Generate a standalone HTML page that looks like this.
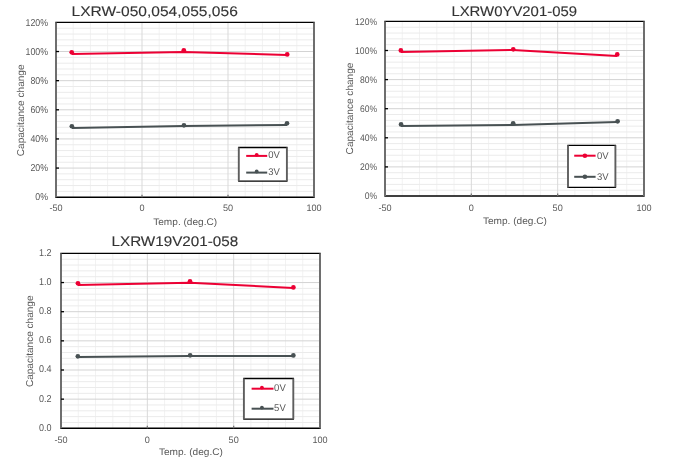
<!DOCTYPE html>
<html><head><meta charset="utf-8"><style>
html,body{margin:0;padding:0;background:#fff;width:675px;height:464px;overflow:hidden}
svg{display:block;font-family:'Liberation Sans', sans-serif;will-change:transform;text-rendering:geometricPrecision}
</style></head><body>
<svg width="675" height="464" viewBox="0 0 675 464">
<rect width="675" height="464" fill="#fff"/>
<line x1="73.2" y1="22.4" x2="73.2" y2="197.2" stroke="#f2f2f2" stroke-width="1"/>
<line x1="90.4" y1="22.4" x2="90.4" y2="197.2" stroke="#f2f2f2" stroke-width="1"/>
<line x1="107.6" y1="22.4" x2="107.6" y2="197.2" stroke="#f2f2f2" stroke-width="1"/>
<line x1="124.8" y1="22.4" x2="124.8" y2="197.2" stroke="#f2f2f2" stroke-width="1"/>
<line x1="159.2" y1="22.4" x2="159.2" y2="197.2" stroke="#f2f2f2" stroke-width="1"/>
<line x1="176.4" y1="22.4" x2="176.4" y2="197.2" stroke="#f2f2f2" stroke-width="1"/>
<line x1="193.6" y1="22.4" x2="193.6" y2="197.2" stroke="#f2f2f2" stroke-width="1"/>
<line x1="210.8" y1="22.4" x2="210.8" y2="197.2" stroke="#f2f2f2" stroke-width="1"/>
<line x1="245.2" y1="22.4" x2="245.2" y2="197.2" stroke="#f2f2f2" stroke-width="1"/>
<line x1="262.4" y1="22.4" x2="262.4" y2="197.2" stroke="#f2f2f2" stroke-width="1"/>
<line x1="279.6" y1="22.4" x2="279.6" y2="197.2" stroke="#f2f2f2" stroke-width="1"/>
<line x1="296.8" y1="22.4" x2="296.8" y2="197.2" stroke="#f2f2f2" stroke-width="1"/>
<line x1="56" y1="191.37" x2="314" y2="191.37" stroke="#ebebeb" stroke-width="1"/>
<line x1="56" y1="185.55" x2="314" y2="185.55" stroke="#ebebeb" stroke-width="1"/>
<line x1="56" y1="179.72" x2="314" y2="179.72" stroke="#ebebeb" stroke-width="1"/>
<line x1="56" y1="173.89" x2="314" y2="173.89" stroke="#ebebeb" stroke-width="1"/>
<line x1="56" y1="162.24" x2="314" y2="162.24" stroke="#ebebeb" stroke-width="1"/>
<line x1="56" y1="156.41" x2="314" y2="156.41" stroke="#ebebeb" stroke-width="1"/>
<line x1="56" y1="150.59" x2="314" y2="150.59" stroke="#ebebeb" stroke-width="1"/>
<line x1="56" y1="144.76" x2="314" y2="144.76" stroke="#ebebeb" stroke-width="1"/>
<line x1="56" y1="133.11" x2="314" y2="133.11" stroke="#ebebeb" stroke-width="1"/>
<line x1="56" y1="127.28" x2="314" y2="127.28" stroke="#ebebeb" stroke-width="1"/>
<line x1="56" y1="121.45" x2="314" y2="121.45" stroke="#ebebeb" stroke-width="1"/>
<line x1="56" y1="115.63" x2="314" y2="115.63" stroke="#ebebeb" stroke-width="1"/>
<line x1="56" y1="103.97" x2="314" y2="103.97" stroke="#ebebeb" stroke-width="1"/>
<line x1="56" y1="98.15" x2="314" y2="98.15" stroke="#ebebeb" stroke-width="1"/>
<line x1="56" y1="92.32" x2="314" y2="92.32" stroke="#ebebeb" stroke-width="1"/>
<line x1="56" y1="86.49" x2="314" y2="86.49" stroke="#ebebeb" stroke-width="1"/>
<line x1="56" y1="74.84" x2="314" y2="74.84" stroke="#ebebeb" stroke-width="1"/>
<line x1="56" y1="69.01" x2="314" y2="69.01" stroke="#ebebeb" stroke-width="1"/>
<line x1="56" y1="63.19" x2="314" y2="63.19" stroke="#ebebeb" stroke-width="1"/>
<line x1="56" y1="57.36" x2="314" y2="57.36" stroke="#ebebeb" stroke-width="1"/>
<line x1="56" y1="45.71" x2="314" y2="45.71" stroke="#ebebeb" stroke-width="1"/>
<line x1="56" y1="39.88" x2="314" y2="39.88" stroke="#ebebeb" stroke-width="1"/>
<line x1="56" y1="34.05" x2="314" y2="34.05" stroke="#ebebeb" stroke-width="1"/>
<line x1="56" y1="28.23" x2="314" y2="28.23" stroke="#ebebeb" stroke-width="1"/>
<line x1="142" y1="22.4" x2="142" y2="197.2" stroke="#d9d9d9" stroke-width="1"/>
<line x1="228" y1="22.4" x2="228" y2="197.2" stroke="#d9d9d9" stroke-width="1"/>
<line x1="56" y1="168.07" x2="314" y2="168.07" stroke="#d3d3d3" stroke-width="1"/>
<line x1="56" y1="138.93" x2="314" y2="138.93" stroke="#d3d3d3" stroke-width="1"/>
<line x1="56" y1="109.8" x2="314" y2="109.8" stroke="#d3d3d3" stroke-width="1"/>
<line x1="56" y1="80.67" x2="314" y2="80.67" stroke="#d3d3d3" stroke-width="1"/>
<line x1="56" y1="51.53" x2="314" y2="51.53" stroke="#d3d3d3" stroke-width="1"/>
<line x1="56" y1="22.4" x2="314" y2="22.4" stroke="#000" stroke-width="1.4" stroke-linecap="square"/>
<line x1="56" y1="197.2" x2="314" y2="197.2" stroke="#000" stroke-width="1.4" stroke-linecap="square"/>
<line x1="56" y1="22.4" x2="56" y2="197.2" stroke="#6e6e6e" stroke-width="2"/>
<line x1="314" y1="22.4" x2="314" y2="197.2" stroke="#6e6e6e" stroke-width="2"/>
<line x1="56" y1="168.07" x2="59" y2="168.07" stroke="#000" stroke-width="1.3"/>
<line x1="56" y1="138.93" x2="59" y2="138.93" stroke="#000" stroke-width="1.3"/>
<line x1="56" y1="109.8" x2="59" y2="109.8" stroke="#000" stroke-width="1.3"/>
<line x1="56" y1="80.67" x2="59" y2="80.67" stroke="#000" stroke-width="1.3"/>
<line x1="56" y1="51.53" x2="59" y2="51.53" stroke="#000" stroke-width="1.3"/>
<line x1="142" y1="197.2" x2="142" y2="194.7" stroke="#777" stroke-width="1.3"/>
<line x1="228" y1="197.2" x2="228" y2="194.7" stroke="#777" stroke-width="1.3"/>
<text transform="translate(48,200.3) scale(0.88,1)" text-anchor="end" font-size="10" fill="#595959">0%</text>
<text transform="translate(48,171.17) scale(0.88,1)" text-anchor="end" font-size="10" fill="#595959">20%</text>
<text transform="translate(48,142.03) scale(0.88,1)" text-anchor="end" font-size="10" fill="#595959">40%</text>
<text transform="translate(48,112.9) scale(0.88,1)" text-anchor="end" font-size="10" fill="#595959">60%</text>
<text transform="translate(48,83.77) scale(0.88,1)" text-anchor="end" font-size="10" fill="#595959">80%</text>
<text transform="translate(48,54.63) scale(0.88,1)" text-anchor="end" font-size="10" fill="#595959">100%</text>
<text transform="translate(48,25.5) scale(0.88,1)" text-anchor="end" font-size="10" fill="#595959">120%</text>
<text transform="translate(56,211.1) scale(0.97,1)" text-anchor="middle" font-size="9.4" fill="#595959">-50</text>
<text transform="translate(142,211.1) scale(0.97,1)" text-anchor="middle" font-size="9.4" fill="#595959">0</text>
<text transform="translate(228,211.1) scale(0.97,1)" text-anchor="middle" font-size="9.4" fill="#595959">50</text>
<text transform="translate(314,211.1) scale(0.97,1)" text-anchor="middle" font-size="9.4" fill="#595959">100</text>
<text x="71.5" y="15.9" font-size="14" fill="#333" stroke="#333" stroke-width="0.12" textLength="166.3" lengthAdjust="spacingAndGlyphs">LXRW-050,054,055,056</text>
<text x="185.2" y="225" text-anchor="middle" font-size="9.6" fill="#595959" textLength="64" lengthAdjust="spacingAndGlyphs">Temp. (deg.C)</text>
<text transform="translate(24.1,110.35) rotate(-90)" text-anchor="middle" font-size="10" fill="#595959" textLength="91.8" lengthAdjust="spacingAndGlyphs">Capacitance change</text>
<polyline points="71.85,128 183.8,126.05 287,124.9" fill="none" stroke="#485153" stroke-width="2.0" stroke-linejoin="round"/>
<circle cx="71.85" cy="126.25" r="2.35" fill="#485153"/>
<circle cx="183.95" cy="125.3" r="2.35" fill="#485153"/>
<circle cx="287" cy="123.3" r="2.35" fill="#485153"/>
<polyline points="71.85,54 183.8,51.9 287,54.9" fill="none" stroke="#ec0034" stroke-width="2.0" stroke-linejoin="round"/>
<circle cx="71.7" cy="52.3" r="2.35" fill="#ec0034"/>
<circle cx="183.8" cy="50.3" r="2.35" fill="#ec0034"/>
<circle cx="287.2" cy="54.4" r="2.35" fill="#ec0034"/>
<rect x="238.8" y="147.5" width="48.1" height="33.6" fill="#fff"/>
<line x1="238.8" y1="147.5" x2="286.9" y2="147.5" stroke="#000" stroke-width="1.3" stroke-linecap="square"/>
<line x1="238.8" y1="181.1" x2="286.9" y2="181.1" stroke="#000" stroke-width="1.3" stroke-linecap="square"/>
<line x1="238.8" y1="147.5" x2="238.8" y2="181.1" stroke="#5e5e5e" stroke-width="1.9"/>
<line x1="286.9" y1="147.5" x2="286.9" y2="181.1" stroke="#5e5e5e" stroke-width="1.9"/>
<line x1="246.2" y1="155.9" x2="267.2" y2="155.9" stroke="#ec0034" stroke-width="2"/>
<circle cx="256.7" cy="154.8" r="1.9" fill="#ec0034"/>
<text transform="translate(268.2,158.2) scale(0.97,1)" font-size="9.8" fill="#595959">0V</text>
<line x1="246.2" y1="172.6" x2="267.2" y2="172.6" stroke="#485153" stroke-width="2"/>
<circle cx="256.7" cy="171.5" r="1.9" fill="#485153"/>
<text transform="translate(268.2,174.9) scale(0.97,1)" font-size="9.8" fill="#595959">3V</text>
<line x1="402.27" y1="21.4" x2="402.27" y2="196" stroke="#f2f2f2" stroke-width="1"/>
<line x1="419.53" y1="21.4" x2="419.53" y2="196" stroke="#f2f2f2" stroke-width="1"/>
<line x1="436.8" y1="21.4" x2="436.8" y2="196" stroke="#f2f2f2" stroke-width="1"/>
<line x1="454.07" y1="21.4" x2="454.07" y2="196" stroke="#f2f2f2" stroke-width="1"/>
<line x1="488.6" y1="21.4" x2="488.6" y2="196" stroke="#f2f2f2" stroke-width="1"/>
<line x1="505.87" y1="21.4" x2="505.87" y2="196" stroke="#f2f2f2" stroke-width="1"/>
<line x1="523.13" y1="21.4" x2="523.13" y2="196" stroke="#f2f2f2" stroke-width="1"/>
<line x1="540.4" y1="21.4" x2="540.4" y2="196" stroke="#f2f2f2" stroke-width="1"/>
<line x1="574.93" y1="21.4" x2="574.93" y2="196" stroke="#f2f2f2" stroke-width="1"/>
<line x1="592.2" y1="21.4" x2="592.2" y2="196" stroke="#f2f2f2" stroke-width="1"/>
<line x1="609.47" y1="21.4" x2="609.47" y2="196" stroke="#f2f2f2" stroke-width="1"/>
<line x1="626.73" y1="21.4" x2="626.73" y2="196" stroke="#f2f2f2" stroke-width="1"/>
<line x1="385" y1="190.18" x2="644" y2="190.18" stroke="#ebebeb" stroke-width="1"/>
<line x1="385" y1="184.36" x2="644" y2="184.36" stroke="#ebebeb" stroke-width="1"/>
<line x1="385" y1="178.54" x2="644" y2="178.54" stroke="#ebebeb" stroke-width="1"/>
<line x1="385" y1="172.72" x2="644" y2="172.72" stroke="#ebebeb" stroke-width="1"/>
<line x1="385" y1="161.08" x2="644" y2="161.08" stroke="#ebebeb" stroke-width="1"/>
<line x1="385" y1="155.26" x2="644" y2="155.26" stroke="#ebebeb" stroke-width="1"/>
<line x1="385" y1="149.44" x2="644" y2="149.44" stroke="#ebebeb" stroke-width="1"/>
<line x1="385" y1="143.62" x2="644" y2="143.62" stroke="#ebebeb" stroke-width="1"/>
<line x1="385" y1="131.98" x2="644" y2="131.98" stroke="#ebebeb" stroke-width="1"/>
<line x1="385" y1="126.16" x2="644" y2="126.16" stroke="#ebebeb" stroke-width="1"/>
<line x1="385" y1="120.34" x2="644" y2="120.34" stroke="#ebebeb" stroke-width="1"/>
<line x1="385" y1="114.52" x2="644" y2="114.52" stroke="#ebebeb" stroke-width="1"/>
<line x1="385" y1="102.88" x2="644" y2="102.88" stroke="#ebebeb" stroke-width="1"/>
<line x1="385" y1="97.06" x2="644" y2="97.06" stroke="#ebebeb" stroke-width="1"/>
<line x1="385" y1="91.24" x2="644" y2="91.24" stroke="#ebebeb" stroke-width="1"/>
<line x1="385" y1="85.42" x2="644" y2="85.42" stroke="#ebebeb" stroke-width="1"/>
<line x1="385" y1="73.78" x2="644" y2="73.78" stroke="#ebebeb" stroke-width="1"/>
<line x1="385" y1="67.96" x2="644" y2="67.96" stroke="#ebebeb" stroke-width="1"/>
<line x1="385" y1="62.14" x2="644" y2="62.14" stroke="#ebebeb" stroke-width="1"/>
<line x1="385" y1="56.32" x2="644" y2="56.32" stroke="#ebebeb" stroke-width="1"/>
<line x1="385" y1="44.68" x2="644" y2="44.68" stroke="#ebebeb" stroke-width="1"/>
<line x1="385" y1="38.86" x2="644" y2="38.86" stroke="#ebebeb" stroke-width="1"/>
<line x1="385" y1="33.04" x2="644" y2="33.04" stroke="#ebebeb" stroke-width="1"/>
<line x1="385" y1="27.22" x2="644" y2="27.22" stroke="#ebebeb" stroke-width="1"/>
<line x1="471.33" y1="21.4" x2="471.33" y2="196" stroke="#d9d9d9" stroke-width="1"/>
<line x1="557.67" y1="21.4" x2="557.67" y2="196" stroke="#d9d9d9" stroke-width="1"/>
<line x1="385" y1="166.9" x2="644" y2="166.9" stroke="#d3d3d3" stroke-width="1"/>
<line x1="385" y1="137.8" x2="644" y2="137.8" stroke="#d3d3d3" stroke-width="1"/>
<line x1="385" y1="108.7" x2="644" y2="108.7" stroke="#d3d3d3" stroke-width="1"/>
<line x1="385" y1="79.6" x2="644" y2="79.6" stroke="#d3d3d3" stroke-width="1"/>
<line x1="385" y1="50.5" x2="644" y2="50.5" stroke="#d3d3d3" stroke-width="1"/>
<line x1="385" y1="21.4" x2="644" y2="21.4" stroke="#000" stroke-width="1.4" stroke-linecap="square"/>
<line x1="385" y1="196" x2="644" y2="196" stroke="#000" stroke-width="1.4" stroke-linecap="square"/>
<line x1="385" y1="21.4" x2="385" y2="196" stroke="#6e6e6e" stroke-width="2"/>
<line x1="644" y1="21.4" x2="644" y2="196" stroke="#6e6e6e" stroke-width="2"/>
<line x1="385" y1="166.9" x2="388" y2="166.9" stroke="#000" stroke-width="1.3"/>
<line x1="385" y1="137.8" x2="388" y2="137.8" stroke="#000" stroke-width="1.3"/>
<line x1="385" y1="108.7" x2="388" y2="108.7" stroke="#000" stroke-width="1.3"/>
<line x1="385" y1="79.6" x2="388" y2="79.6" stroke="#000" stroke-width="1.3"/>
<line x1="385" y1="50.5" x2="388" y2="50.5" stroke="#000" stroke-width="1.3"/>
<line x1="471.33" y1="196" x2="471.33" y2="193.5" stroke="#777" stroke-width="1.3"/>
<line x1="557.67" y1="196" x2="557.67" y2="193.5" stroke="#777" stroke-width="1.3"/>
<text transform="translate(377,199.4) scale(0.9,1)" text-anchor="end" font-size="9.5" fill="#595959">0%</text>
<text transform="translate(377,170.3) scale(0.9,1)" text-anchor="end" font-size="9.5" fill="#595959">20%</text>
<text transform="translate(377,141.2) scale(0.9,1)" text-anchor="end" font-size="9.5" fill="#595959">40%</text>
<text transform="translate(377,112.1) scale(0.9,1)" text-anchor="end" font-size="9.5" fill="#595959">60%</text>
<text transform="translate(377,83) scale(0.9,1)" text-anchor="end" font-size="9.5" fill="#595959">80%</text>
<text transform="translate(377,53.9) scale(0.9,1)" text-anchor="end" font-size="9.5" fill="#595959">100%</text>
<text transform="translate(377,24.8) scale(0.9,1)" text-anchor="end" font-size="9.5" fill="#595959">120%</text>
<text transform="translate(385,210.6) scale(0.97,1)" text-anchor="middle" font-size="9.4" fill="#595959">-50</text>
<text transform="translate(471.33,210.6) scale(0.97,1)" text-anchor="middle" font-size="9.4" fill="#595959">0</text>
<text transform="translate(557.67,210.6) scale(0.97,1)" text-anchor="middle" font-size="9.4" fill="#595959">50</text>
<text transform="translate(644,210.6) scale(0.97,1)" text-anchor="middle" font-size="9.4" fill="#595959">100</text>
<text x="451.4" y="15.6" font-size="14" fill="#333" stroke="#333" stroke-width="0.12" textLength="125.6" lengthAdjust="spacingAndGlyphs">LXRW0YV201-059</text>
<text x="514.9" y="223.6" text-anchor="middle" font-size="9.6" fill="#595959" textLength="64" lengthAdjust="spacingAndGlyphs">Temp. (deg.C)</text>
<text transform="translate(353.1,108.5) rotate(-90)" text-anchor="middle" font-size="10" fill="#595959" textLength="91.8" lengthAdjust="spacingAndGlyphs">Capacitance change</text>
<polyline points="400.9,125.9 513.1,125 617.2,122" fill="none" stroke="#485153" stroke-width="2.0" stroke-linejoin="round"/>
<circle cx="401.05" cy="124.4" r="2.35" fill="#485153"/>
<circle cx="513.15" cy="123.25" r="2.35" fill="#485153"/>
<circle cx="617.6" cy="121.35" r="2.35" fill="#485153"/>
<polyline points="400.9,51.9 512.8,49.9 617,55.9" fill="none" stroke="#ec0034" stroke-width="2.0" stroke-linejoin="round"/>
<circle cx="400.85" cy="50.45" r="2.35" fill="#ec0034"/>
<circle cx="513.25" cy="49.35" r="2.35" fill="#ec0034"/>
<circle cx="617.25" cy="54.45" r="2.35" fill="#ec0034"/>
<rect x="568" y="145.3" width="47.4" height="42.1" fill="#fff"/>
<line x1="568" y1="145.3" x2="615.4" y2="145.3" stroke="#000" stroke-width="1.3" stroke-linecap="square"/>
<line x1="568" y1="187.4" x2="615.4" y2="187.4" stroke="#000" stroke-width="1.3" stroke-linecap="square"/>
<line x1="568" y1="145.3" x2="568" y2="187.4" stroke="#5e5e5e" stroke-width="1.9"/>
<line x1="615.4" y1="145.3" x2="615.4" y2="187.4" stroke="#5e5e5e" stroke-width="1.9"/>
<line x1="574.2" y1="155.7" x2="595.6" y2="155.7" stroke="#ec0034" stroke-width="2"/>
<circle cx="584.9" cy="155.7" r="2.3" fill="#ec0034"/>
<text transform="translate(596.9,158.7) scale(0.97,1)" font-size="9.8" fill="#595959">0V</text>
<line x1="574.2" y1="176.8" x2="595.6" y2="176.8" stroke="#485153" stroke-width="2"/>
<circle cx="584.9" cy="176.8" r="2.3" fill="#485153"/>
<text transform="translate(596.9,179.8) scale(0.97,1)" font-size="9.8" fill="#595959">3V</text>
<line x1="78.27" y1="253.4" x2="78.27" y2="428.3" stroke="#f2f2f2" stroke-width="1"/>
<line x1="95.53" y1="253.4" x2="95.53" y2="428.3" stroke="#f2f2f2" stroke-width="1"/>
<line x1="112.8" y1="253.4" x2="112.8" y2="428.3" stroke="#f2f2f2" stroke-width="1"/>
<line x1="130.07" y1="253.4" x2="130.07" y2="428.3" stroke="#f2f2f2" stroke-width="1"/>
<line x1="164.6" y1="253.4" x2="164.6" y2="428.3" stroke="#f2f2f2" stroke-width="1"/>
<line x1="181.87" y1="253.4" x2="181.87" y2="428.3" stroke="#f2f2f2" stroke-width="1"/>
<line x1="199.13" y1="253.4" x2="199.13" y2="428.3" stroke="#f2f2f2" stroke-width="1"/>
<line x1="216.4" y1="253.4" x2="216.4" y2="428.3" stroke="#f2f2f2" stroke-width="1"/>
<line x1="250.93" y1="253.4" x2="250.93" y2="428.3" stroke="#f2f2f2" stroke-width="1"/>
<line x1="268.2" y1="253.4" x2="268.2" y2="428.3" stroke="#f2f2f2" stroke-width="1"/>
<line x1="285.47" y1="253.4" x2="285.47" y2="428.3" stroke="#f2f2f2" stroke-width="1"/>
<line x1="302.73" y1="253.4" x2="302.73" y2="428.3" stroke="#f2f2f2" stroke-width="1"/>
<line x1="61" y1="422.47" x2="320" y2="422.47" stroke="#ebebeb" stroke-width="1"/>
<line x1="61" y1="416.64" x2="320" y2="416.64" stroke="#ebebeb" stroke-width="1"/>
<line x1="61" y1="410.81" x2="320" y2="410.81" stroke="#ebebeb" stroke-width="1"/>
<line x1="61" y1="404.98" x2="320" y2="404.98" stroke="#ebebeb" stroke-width="1"/>
<line x1="61" y1="393.32" x2="320" y2="393.32" stroke="#ebebeb" stroke-width="1"/>
<line x1="61" y1="387.49" x2="320" y2="387.49" stroke="#ebebeb" stroke-width="1"/>
<line x1="61" y1="381.66" x2="320" y2="381.66" stroke="#ebebeb" stroke-width="1"/>
<line x1="61" y1="375.83" x2="320" y2="375.83" stroke="#ebebeb" stroke-width="1"/>
<line x1="61" y1="364.17" x2="320" y2="364.17" stroke="#ebebeb" stroke-width="1"/>
<line x1="61" y1="358.34" x2="320" y2="358.34" stroke="#ebebeb" stroke-width="1"/>
<line x1="61" y1="352.51" x2="320" y2="352.51" stroke="#ebebeb" stroke-width="1"/>
<line x1="61" y1="346.68" x2="320" y2="346.68" stroke="#ebebeb" stroke-width="1"/>
<line x1="61" y1="335.02" x2="320" y2="335.02" stroke="#ebebeb" stroke-width="1"/>
<line x1="61" y1="329.19" x2="320" y2="329.19" stroke="#ebebeb" stroke-width="1"/>
<line x1="61" y1="323.36" x2="320" y2="323.36" stroke="#ebebeb" stroke-width="1"/>
<line x1="61" y1="317.53" x2="320" y2="317.53" stroke="#ebebeb" stroke-width="1"/>
<line x1="61" y1="305.87" x2="320" y2="305.87" stroke="#ebebeb" stroke-width="1"/>
<line x1="61" y1="300.04" x2="320" y2="300.04" stroke="#ebebeb" stroke-width="1"/>
<line x1="61" y1="294.21" x2="320" y2="294.21" stroke="#ebebeb" stroke-width="1"/>
<line x1="61" y1="288.38" x2="320" y2="288.38" stroke="#ebebeb" stroke-width="1"/>
<line x1="61" y1="276.72" x2="320" y2="276.72" stroke="#ebebeb" stroke-width="1"/>
<line x1="61" y1="270.89" x2="320" y2="270.89" stroke="#ebebeb" stroke-width="1"/>
<line x1="61" y1="265.06" x2="320" y2="265.06" stroke="#ebebeb" stroke-width="1"/>
<line x1="61" y1="259.23" x2="320" y2="259.23" stroke="#ebebeb" stroke-width="1"/>
<line x1="147.33" y1="253.4" x2="147.33" y2="428.3" stroke="#d9d9d9" stroke-width="1"/>
<line x1="233.67" y1="253.4" x2="233.67" y2="428.3" stroke="#d9d9d9" stroke-width="1"/>
<line x1="61" y1="399.15" x2="320" y2="399.15" stroke="#d3d3d3" stroke-width="1"/>
<line x1="61" y1="370" x2="320" y2="370" stroke="#d3d3d3" stroke-width="1"/>
<line x1="61" y1="340.85" x2="320" y2="340.85" stroke="#d3d3d3" stroke-width="1"/>
<line x1="61" y1="311.7" x2="320" y2="311.7" stroke="#d3d3d3" stroke-width="1"/>
<line x1="61" y1="282.55" x2="320" y2="282.55" stroke="#d3d3d3" stroke-width="1"/>
<line x1="61" y1="253.4" x2="320" y2="253.4" stroke="#000" stroke-width="1.4" stroke-linecap="square"/>
<line x1="61" y1="428.3" x2="320" y2="428.3" stroke="#000" stroke-width="1.4" stroke-linecap="square"/>
<line x1="61" y1="253.4" x2="61" y2="428.3" stroke="#6e6e6e" stroke-width="2"/>
<line x1="320" y1="253.4" x2="320" y2="428.3" stroke="#6e6e6e" stroke-width="2"/>
<line x1="61" y1="399.15" x2="64" y2="399.15" stroke="#000" stroke-width="1.3"/>
<line x1="61" y1="370" x2="64" y2="370" stroke="#000" stroke-width="1.3"/>
<line x1="61" y1="340.85" x2="64" y2="340.85" stroke="#000" stroke-width="1.3"/>
<line x1="61" y1="311.7" x2="64" y2="311.7" stroke="#000" stroke-width="1.3"/>
<line x1="61" y1="282.55" x2="64" y2="282.55" stroke="#000" stroke-width="1.3"/>
<line x1="147.33" y1="428.3" x2="147.33" y2="425.8" stroke="#777" stroke-width="1.3"/>
<line x1="233.67" y1="428.3" x2="233.67" y2="425.8" stroke="#777" stroke-width="1.3"/>
<text transform="translate(51.5,430.7) scale(0.9,1)" text-anchor="end" font-size="10" fill="#595959">0.0</text>
<text transform="translate(51.5,401.55) scale(0.9,1)" text-anchor="end" font-size="10" fill="#595959">0.2</text>
<text transform="translate(51.5,372.4) scale(0.9,1)" text-anchor="end" font-size="10" fill="#595959">0.4</text>
<text transform="translate(51.5,343.25) scale(0.9,1)" text-anchor="end" font-size="10" fill="#595959">0.6</text>
<text transform="translate(51.5,314.1) scale(0.9,1)" text-anchor="end" font-size="10" fill="#595959">0.8</text>
<text transform="translate(51.5,284.95) scale(0.9,1)" text-anchor="end" font-size="10" fill="#595959">1.0</text>
<text transform="translate(51.5,255.8) scale(0.9,1)" text-anchor="end" font-size="10" fill="#595959">1.2</text>
<text transform="translate(61,442.6) scale(0.97,1)" text-anchor="middle" font-size="9.4" fill="#595959">-50</text>
<text transform="translate(147.33,442.6) scale(0.97,1)" text-anchor="middle" font-size="9.4" fill="#595959">0</text>
<text transform="translate(233.67,442.6) scale(0.97,1)" text-anchor="middle" font-size="9.4" fill="#595959">50</text>
<text transform="translate(320,442.6) scale(0.97,1)" text-anchor="middle" font-size="9.4" fill="#595959">100</text>
<text x="111.5" y="246" font-size="14" fill="#333" stroke="#333" stroke-width="0.12" textLength="126.7" lengthAdjust="spacingAndGlyphs">LXRW19V201-058</text>
<text x="190.9" y="455" text-anchor="middle" font-size="9.6" fill="#595959" textLength="64" lengthAdjust="spacingAndGlyphs">Temp. (deg.C)</text>
<text transform="translate(33.1,341.3) rotate(-90)" text-anchor="middle" font-size="10" fill="#595959" textLength="91.6" lengthAdjust="spacingAndGlyphs">Capacitance change</text>
<polyline points="77.8,357 189.9,356 293.1,355.9" fill="none" stroke="#485153" stroke-width="2.0" stroke-linejoin="round"/>
<circle cx="77.85" cy="356.3" r="2.35" fill="#485153"/>
<circle cx="190.15" cy="355.3" r="2.35" fill="#485153"/>
<circle cx="293.35" cy="355.4" r="2.35" fill="#485153"/>
<polyline points="77.8,284.9 189.9,282.85 293.2,287.9" fill="none" stroke="#ec0034" stroke-width="2.0" stroke-linejoin="round"/>
<circle cx="77.95" cy="283.35" r="2.35" fill="#ec0034"/>
<circle cx="190" cy="281.25" r="2.35" fill="#ec0034"/>
<circle cx="293.4" cy="287.45" r="2.35" fill="#ec0034"/>
<rect x="243.9" y="378.5" width="49.4" height="40.7" fill="#fff"/>
<line x1="243.9" y1="378.5" x2="293.3" y2="378.5" stroke="#000" stroke-width="1.3" stroke-linecap="square"/>
<line x1="243.9" y1="419.2" x2="293.3" y2="419.2" stroke="#000" stroke-width="1.3" stroke-linecap="square"/>
<line x1="243.9" y1="378.5" x2="243.9" y2="419.2" stroke="#5e5e5e" stroke-width="1.9"/>
<line x1="293.3" y1="378.5" x2="293.3" y2="419.2" stroke="#5e5e5e" stroke-width="1.9"/>
<line x1="251.6" y1="388.7" x2="273.5" y2="388.7" stroke="#ec0034" stroke-width="2"/>
<circle cx="261.9" cy="387.6" r="1.9" fill="#ec0034"/>
<text transform="translate(274.1,391.3) scale(0.97,1)" font-size="9.8" fill="#595959">0V</text>
<line x1="251.6" y1="408.7" x2="273.5" y2="408.7" stroke="#485153" stroke-width="2"/>
<circle cx="261.9" cy="407.6" r="1.9" fill="#485153"/>
<text transform="translate(274.1,411.3) scale(0.97,1)" font-size="9.8" fill="#595959">5V</text>
</svg>
</body></html>
